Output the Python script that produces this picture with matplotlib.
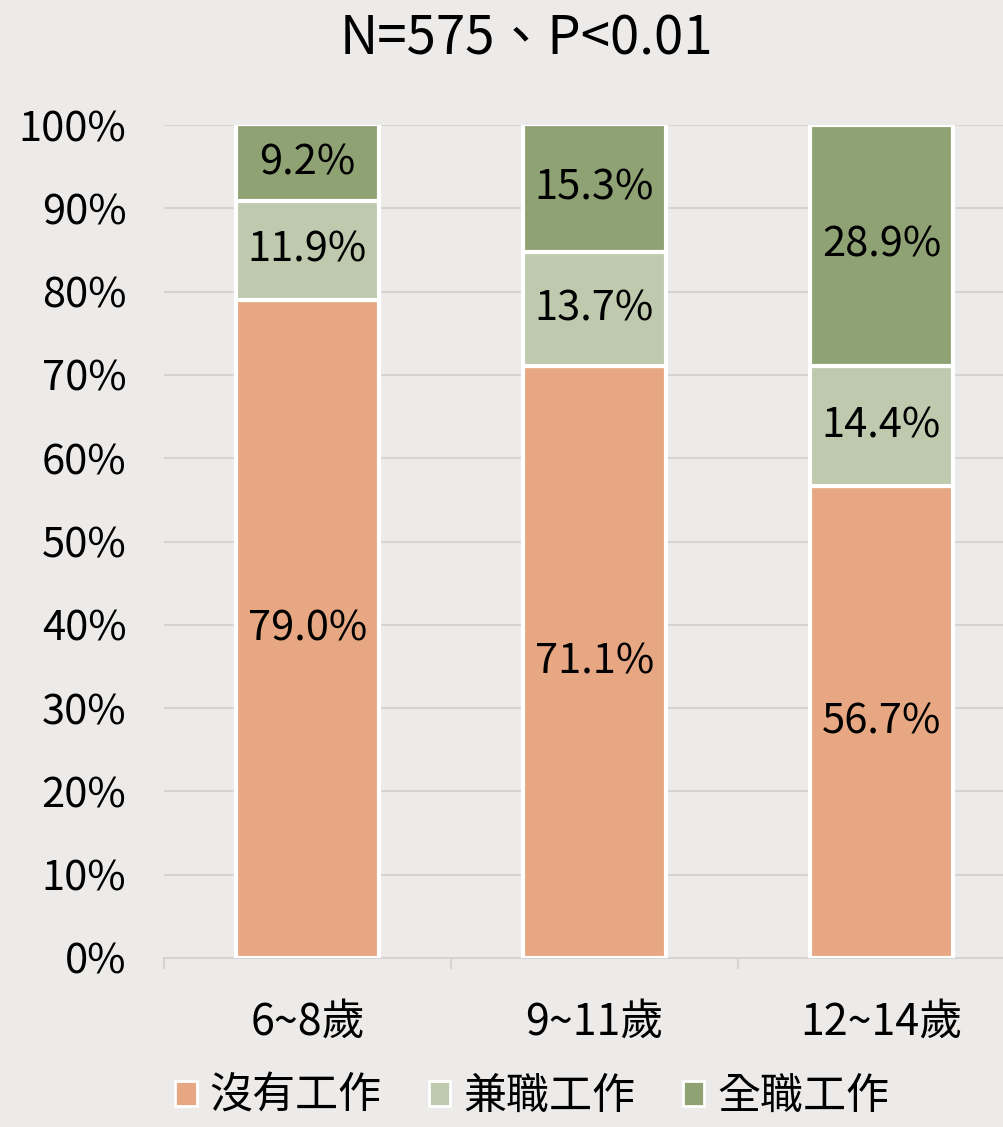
import matplotlib
matplotlib.use("Agg")
import matplotlib.pyplot as plt
from matplotlib.patches import Patch
import numpy as np

plt.rcParams["font.family"] = ["Noto Sans CJK TC", "DejaVu Sans"]

# 資料
age_groups = ["6~8歲", "9~11歲", "12~14歲"]
series_names = ["沒有工作", "兼職工作", "全職工作"]
no_work = [79.0, 71.1, 56.7]
part_time = [11.9, 13.7, 14.4]
full_time = [9.2, 15.3, 28.9]
title_text = "N=575、P<0.01"

colors = ["#E6A782", "#BEC9AD", "#8FA274"]
bg = "#EDEBE9"
grid_col = "#D6D4D2"

fig = plt.figure(figsize=(10.04, 11.27), dpi=100, facecolor=bg)
ax = fig.add_axes([164 / 1004, 0.15, 861 / 1004, 0.739])
ax.set_facecolor(bg)

x = np.arange(len(age_groups))
bottoms = np.zeros(len(age_groups))
for vals, col in zip([no_work, part_time, full_time], colors):
    vals = np.array(vals)
    ax.bar(x, vals, width=0.5, bottom=bottoms, color=col,
           edgecolor="white", linewidth=3, zorder=3)
    for xi, b, v in zip(x, bottoms, vals):
        ax.text(xi, b + v / 2, f"{v:.1f}%", ha="center", va="center",
                fontsize=30, color="black", zorder=4)
    bottoms = bottoms + vals

ax.set_xlim(-0.5, 2.5)
ax.set_ylim(0, 100)
ax.set_yticks(np.arange(0, 101, 10))
ax.set_yticklabels([f"{v}%" for v in range(0, 101, 10)], fontsize=30)
ax.yaxis.grid(True, color=grid_col, linewidth=1.5, zorder=0)
ax.tick_params(axis="y", length=0, pad=27)

ax.set_xticks(x)
ax.set_xticklabels(age_groups, fontsize=31)
ax.tick_params(axis="x", which="major", length=0, pad=31)
ax.set_xticks([-0.5, 0.5, 1.5], minor=True)
ax.tick_params(axis="x", which="minor", length=8, width=1.5, color=grid_col,
               direction="out")

for s in ["top", "right", "left"]:
    ax.spines[s].set_visible(False)
ax.spines["bottom"].set_color(grid_col)
ax.spines["bottom"].set_linewidth(1.5)

fig.text(0.524, 0.965, title_text, ha="center", va="center", fontsize=38)

handles = [Patch(facecolor=c, edgecolor="white", linewidth=2) for c in colors]
fig.legend(handles, series_names, loc="center", bbox_to_anchor=(0.53, 0.027),
           ncol=3, frameon=False, fontsize=31, handlelength=0.5,
           handleheight=0.5, handletextpad=0.3, columnspacing=1.1,
           borderpad=0.1)

fig.savefig("out.png", dpi=100, facecolor=bg)
